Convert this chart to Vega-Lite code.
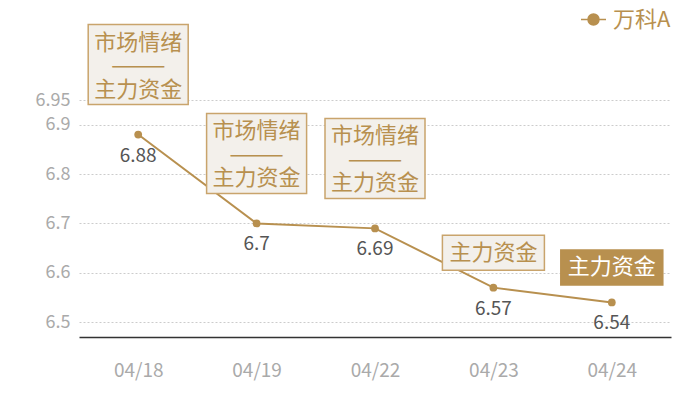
{
  "$schema": "https://vega.github.io/schema/vega-lite/v6.json",
  "width": 592,
  "height": 237,
  "autosize": "none",
  "padding": {"left": 79, "top": 100, "right": 29, "bottom": 63},
  "background": "white",
  "config": {
    "font": "Noto Sans CJK SC",
    "view": {"stroke": null}
  },
  "data": {
    "values": [
      {"date": "04/18", "price": 6.88, "stock": "万科A", "tag": "市场情绪\n———\n主力资金"},
      {"date": "04/19", "price": 6.7, "stock": "万科A", "tag": "市场情绪\n———\n主力资金"},
      {"date": "04/22", "price": 6.69, "stock": "万科A", "tag": "市场情绪\n———\n主力资金"},
      {"date": "04/23", "price": 6.57, "stock": "万科A", "tag": "主力资金"},
      {"date": "04/24", "price": 6.54, "stock": "万科A", "tag": "主力资金"}
    ]
  },
  "encoding": {
    "x": {
      "field": "date",
      "type": "ordinal",
      "scale": {"type": "point", "padding": 0.5},
      "axis": {
        "title": null,
        "labelAngle": 0,
        "labelColor": "#aaaaaa",
        "labelFontSize": 19,
        "labelPadding": 24,
        "ticks": false,
        "domainColor": "#333333",
        "domainWidth": 1.5,
        "grid": false
      }
    },
    "y": {
      "field": "price",
      "type": "quantitative",
      "scale": {"domain": [6.47, 6.95], "zero": false, "nice": false},
      "axis": {
        "title": null,
        "values": [6.5, 6.6, 6.7, 6.8, 6.9, 6.95],
        "labelExpr": "'' + datum.value",
        "domain": false,
        "ticks": false,
        "labelColor": "#aaaaaa",
        "labelFontSize": 18,
        "labelPadding": 9,
        "gridColor": "#cccccc",
        "gridDash": [2, 2],
        "gridWidth": 1
      }
    }
  },
  "layer": [
    {
      "mark": {"type": "line", "strokeWidth": 2},
      "encoding": {
        "color": {
          "field": "stock",
          "type": "nominal",
          "scale": {"range": ["#b8904f"]},
          "legend": {
            "title": null,
            "orient": "none",
            "legendX": 501,
            "legendY": -94,
            "labelColor": "#b8904f",
            "labelFontSize": 22,
            "labelOffset": 6,
            "symbolType": "M-1,0H1M-0.44,0A0.44,0.44 0 1 1 0.44,0A0.44,0.44 0 1 1 -0.44,0Z",
            "symbolSize": 625,
            "symbolStrokeWidth": 1.5,
            "symbolFillColor": "#b8904f",
            "encode": {
              "symbols": {
                "update": {
                  "fill": {"value": "#b8904f"},
                  "stroke": {"value": "#b8904f"},
                  "strokeWidth": {"value": 1.5}
                }
              }
            }
          }
        }
      }
    },
    {
      "mark": {"type": "point", "filled": true, "size": 60, "opacity": 1, "color": "#b8904f"}
    },
    {
      "mark": {"type": "text", "dy": 21, "baseline": "middle", "fontSize": 19, "color": "#555555"},
      "encoding": {"text": {"field": "price", "type": "quantitative", "format": "~g"}}
    },
    {
      "transform": [{"filter": "indexof(datum.tag, '市场') >= 0"}],
      "layer": [
        {
          "mark": {
            "type": "point",
            "filled": true,
            "opacity": 1,
            "size": 6400,
            "shape": "M-1.25,-1H1.25V1H-1.25Z",
            "yOffset": -70,
            "fill": "#f3f0eb",
            "stroke": "#c9a46c",
            "strokeWidth": 1.5
          }
        },
        {
          "mark": {
            "type": "text",
            "baseline": "middle",
            "fontSize": 22,
            "lineHeight": 23.5,
            "lineBreak": "\n",
            "yOffset": -92,
            "color": "#b8904f"
          },
          "encoding": {"text": {"field": "tag"}}
        }
      ]
    },
    {
      "transform": [{"filter": "indexof(datum.tag, '市场') < 0"}],
      "layer": [
        {
          "mark": {
            "type": "point",
            "filled": true,
            "opacity": 1,
            "size": 6400,
            "shape": "M-1.275,-0.4375H1.275V0.4375H-1.275Z",
            "yOffset": -35,
            "strokeWidth": 1.5
          },
          "encoding": {
            "fill": {
              "condition": {"test": "datum.date === '04/24'", "value": "#b8904f"},
              "value": "#f3f0eb"
            },
            "stroke": {
              "condition": {"test": "datum.date === '04/24'", "value": "#b8904f"},
              "value": "#c9a46c"
            }
          }
        },
        {
          "mark": {"type": "text", "baseline": "middle", "fontSize": 22, "yOffset": -35},
          "encoding": {
            "text": {"field": "tag"},
            "color": {
              "condition": {"test": "datum.date === '04/24'", "value": "#ffffff"},
              "value": "#b8904f"
            }
          }
        }
      ]
    }
  ]
}
